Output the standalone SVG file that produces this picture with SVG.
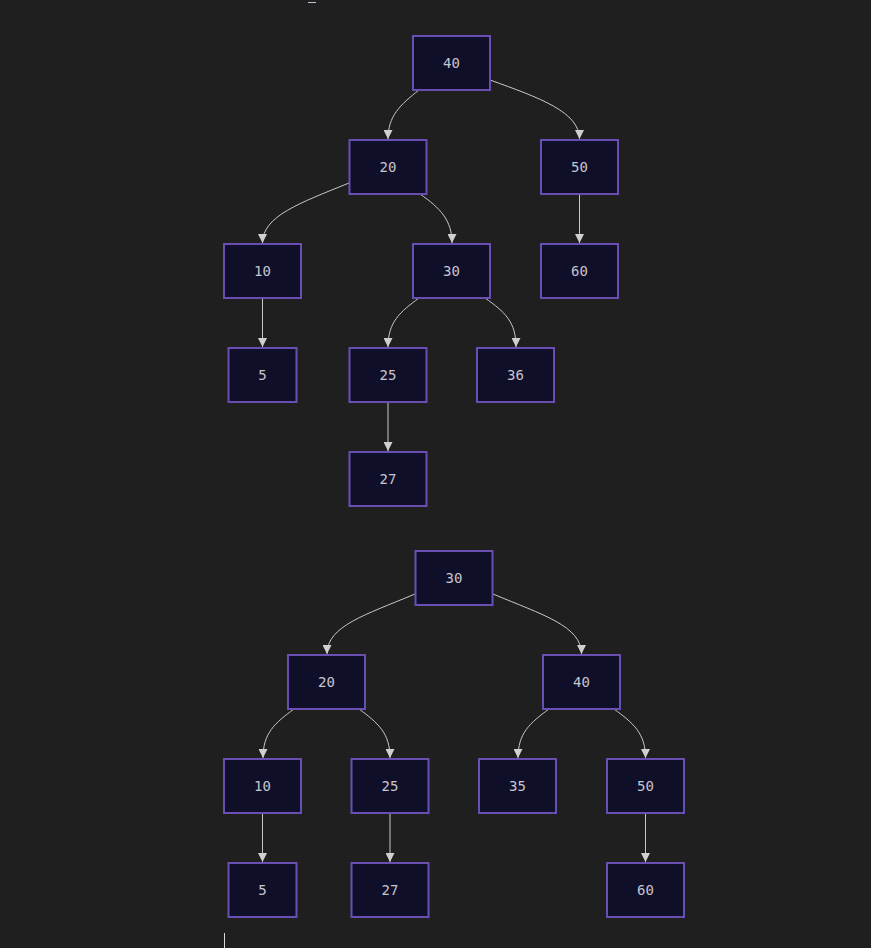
<svg xmlns="http://www.w3.org/2000/svg" width="871" height="948" viewBox="0 0 871 948">
<defs>
<style>
.node rect{fill:#100f29;stroke:#6a4fb3;stroke-width:2}
.node text{fill:#c6c6cf;font-family:"DejaVu Sans Mono","Liberation Mono",monospace;font-size:14px;text-anchor:middle;dominant-baseline:central}
.edges path{fill:none;stroke:#c8c8c8;stroke-width:1;marker-end:url(#arr)}
</style>
<marker id="arr" markerWidth="9" markerHeight="9" refX="10" refY="5" orient="auto" markerUnits="userSpaceOnUse" viewBox="0 0 10 10">
<path d="M0,0 L10,5 L0,10 Z" fill="#d0d0d0"/>
</marker>
</defs>
<rect width="871" height="948" fill="#1f1f1f"/>
<line x1="308" y1="2.5" x2="316" y2="2.5" stroke="#b8c8dc" stroke-width="1"/>
<line x1="224.5" y1="933" x2="224.5" y2="948" stroke="#d8d8d8" stroke-width="1"/>
<g class="edges">
<path d="M419,90 C400,105 388,116 388,139"/>
<path d="M490,80 C540,98 579.5,112 579.5,139"/>
<path d="M349,183 C300,203 262.5,216 262.5,243"/>
<path d="M420,194 C440,208 452,220 452,243"/>
<path d="M579.5,194 L579.5,243"/>
<path d="M262.5,298 L262.5,347"/>
<path d="M419,298 C400,312 388,322 388,347"/>
<path d="M485,298 C505,312 516,322 516,347"/>
<path d="M388,402 L388,451"/>
<path d="M415,594 C365,615 327,626 327,654"/>
<path d="M493,594 C543,615 581.5,626 581.5,654"/>
<path d="M294,709 C275,723 263,733 263,758"/>
<path d="M359,709 C378,723 390,733 390,758"/>
<path d="M549,709 C530,723 518,733 518,758"/>
<path d="M614,709 C633,723 645.5,733 645.5,758"/>
<path d="M262.5,813 L262.5,862"/>
<path d="M390,813 L390,862"/>
<path d="M645.5,813 L645.5,862"/>
</g>
<g id="t1-40" class="node"><rect x="413" y="36" width="77" height="54"/><text x="451.5" y="63">40</text></g>
<g id="t1-20" class="node"><rect x="349.5" y="140" width="77" height="54"/><text x="388" y="167">20</text></g>
<g id="t1-50" class="node"><rect x="541" y="140" width="77" height="54"/><text x="579.5" y="167">50</text></g>
<g id="t1-10" class="node"><rect x="224" y="244" width="77" height="54"/><text x="262.5" y="271">10</text></g>
<g id="t1-30" class="node"><rect x="413" y="244" width="77" height="54"/><text x="451.5" y="271">30</text></g>
<g id="t1-60" class="node"><rect x="541" y="244" width="77" height="54"/><text x="579.5" y="271">60</text></g>
<g id="t1-5" class="node"><rect x="228.5" y="348" width="68" height="54"/><text x="262.5" y="375">5</text></g>
<g id="t1-25" class="node"><rect x="349.5" y="348" width="77" height="54"/><text x="388" y="375">25</text></g>
<g id="t1-36" class="node"><rect x="477" y="348" width="77" height="54"/><text x="515.5" y="375">36</text></g>
<g id="t1-27" class="node"><rect x="349.5" y="452" width="77" height="54"/><text x="388" y="479">27</text></g>
<g id="t2-30" class="node"><rect x="415.5" y="551" width="77" height="54"/><text x="454" y="578">30</text></g>
<g id="t2-20" class="node"><rect x="288" y="655" width="77" height="54"/><text x="326.5" y="682">20</text></g>
<g id="t2-40" class="node"><rect x="543" y="655" width="77" height="54"/><text x="581.5" y="682">40</text></g>
<g id="t2-10" class="node"><rect x="224" y="759" width="77" height="54"/><text x="262.5" y="786">10</text></g>
<g id="t2-25" class="node"><rect x="351.5" y="759" width="77" height="54"/><text x="390" y="786">25</text></g>
<g id="t2-35" class="node"><rect x="479" y="759" width="77" height="54"/><text x="517.5" y="786">35</text></g>
<g id="t2-50" class="node"><rect x="607" y="759" width="77" height="54"/><text x="645.5" y="786">50</text></g>
<g id="t2-5" class="node"><rect x="228.5" y="863" width="68" height="54"/><text x="262.5" y="890">5</text></g>
<g id="t2-27" class="node"><rect x="351.5" y="863" width="77" height="54"/><text x="390" y="890">27</text></g>
<g id="t2-60" class="node"><rect x="607" y="863" width="77" height="54"/><text x="645.5" y="890">60</text></g>
</svg>
